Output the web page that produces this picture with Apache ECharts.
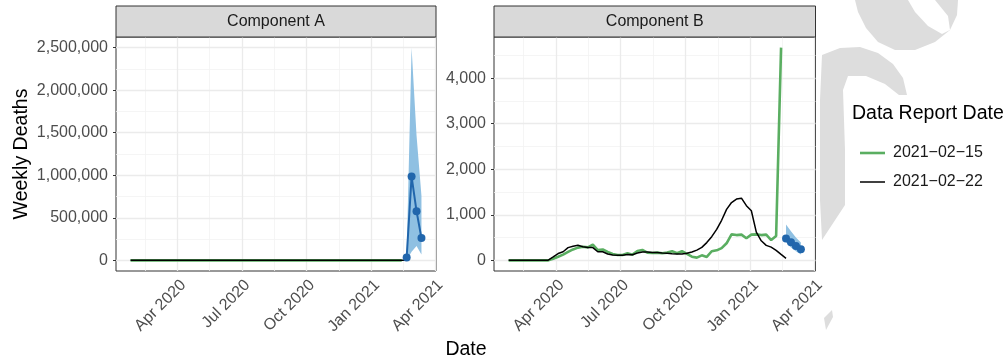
<!DOCTYPE html>
<html>
<head>
<meta charset="utf-8">
<script src="https://cdn.jsdelivr.net/npm/echarts@6/dist/echarts.min.js"></script>
<style>
html,body{margin:0;padding:0;background:#fff;}
#chart{width:1007px;height:362px;}
</style>
</head>
<body>
<div id="chart"></div>
<script>
// ---------------- data ----------------
const firstWeek = '2020-01-25';               // weekly observations (Saturdays)
const panelNames = ['Component A', 'Component B'];
const reportNames = ['2021\u221202\u221215', '2021\u221202\u221222'];

// Component A: reported weekly deaths (flat at 0 at this scale)
const reportA1 = [0,0,0,0,0,0,0,0,0,0,0,0,0,0,0,0,0,0,0,0,0,0,0,0,0,0,0,0,0,0,0,0,0,0,0,0,0,0,0,0,0,0,0,0,0,0,0,0,0,0,0,0,0,0,0,0];
const reportA2 = [0,0,0,0,0,0,0,0,0,0,0,0,0,0,0,0,0,0,0,0,0,0,0,0,0,0,0,0,0,0,0,0,0,0,0,0,0,0,0,0,0,0,0,0,0,0,0,0,0,0,0,0,0,0,0,0,0];

// Component B: report 2021-02-15 (green), report 2021-02-22 (black)
const reportB1 = [0,0,0,0,0,0,0,0,0,
  37,80,125,185,240,280,300,285,345,225,
  240,185,140,117,117,155,125,205,227,170,
  160,170,155,170,200,155,200,140,80,60,
  110,75,200,220,270,375,570,555,565,485,
  565,570,555,565,445,535,4670];
const reportB2 = [0,0,0,0,0,0,0,0,5,
  75,150,190,280,310,330,300,280,280,190,
  190,140,117,110,110,130,125,160,185,185,
  175,170,160,155,145,140,140,155,185,225,
  285,390,520,680,880,1120,1270,1345,1365,1200,
  1090,620,430,330,290,220,130,45];

// forecasts (median, lower, upper)
const fcDates = ['2021-02-20','2021-02-27','2021-03-06','2021-03-13'];
const fcA   = [35000, 985000, 578000, 263000];
const fcAlo = [0, 100000, 170000, 70000];
const fcAhi = [60000, 2500000, 1470000, 760000];
const fcB   = [480, 400, 315, 245];
const fcBlo = [400, 280, 200, 130];
const fcBhi = [790, 640, 500, 390];

// axis ticks
const xTickDates = ['2020-04-01','2020-07-01','2020-10-01','2021-01-01','2021-04-01'];
const xMinorDates = ['2020-02-15','2020-05-16','2020-08-16','2020-11-16','2021-02-15'];
const yTicksA = [0, 500000, 1000000, 1500000, 2000000, 2500000];
const yMinorA = [250000, 750000, 1250000, 1750000, 2250000];
const yTicksB = [0, 1000, 2000, 3000, 4000];
const yMinorB = [500, 1500, 2500, 3500, 4500];

// ---------------- helpers ----------------
const DAY = 86400000;
const ts = s => { const p = s.split('-').map(Number); return Date.UTC(p[0], p[1]-1, p[2]); };
const t0 = ts(firstWeek);
const weekT = k => t0 + 7*DAY*k;
const pairs = arr => arr.map((v,k) => [weekT(k), v]);
const fcPairs = arr => arr.map((v,i) => [ts(fcDates[i]), v]);
const MON = ['Jan','Feb','Mar','Apr','May','Jun','Jul','Aug','Sep','Oct','Nov','Dec'];
const fmtDate = v => { const d = new Date(v); return MON[d.getUTCMonth()] + ' ' + d.getUTCFullYear(); };
const fmtNum = v => String(Math.round(v)).replace(/\B(?=(\d{3})+(?!\d))/g, ',');

const tEnd = ts(fcDates[fcDates.length-1]);
const xMin = t0 - 0.05*(tEnd - t0), xMax = tEnd + 0.05*(tEnd - t0);
const yRange = (lo, hi) => [lo - 0.05*(hi-lo), hi + 0.05*(hi-lo)];
const yA = yRange(0, Math.max(...fcAhi));
const yB = yRange(0, Math.max(...reportB1, ...reportB2, ...fcBhi));

const FONT = '"Liberation Sans", Arial, Helvetica, sans-serif';
const GREEN = '#5aae61', BLUE = '#2166ac', BAND = '#8fc0e2', WM = '#dddddd';

const grids = [
  {left:116, top:37, width:320, height:234},
  {left:494, top:37, width:321.5, height:234}
];

function xAxisFor(i){
  return {
    type:'value', gridIndex:i, min:xMin, max:xMax,
    splitLine:{show:false}, axisLine:{show:false},
    axisTick:{show:true, length:3, lineStyle:{color:'#333', width:1}, customValues: xTickDates.map(ts)},
    axisLabel:{show:true, rotate:45, margin:6, align:'right', verticalAlign:'top',
      color:'#4d4d4d', fontSize:16, fontFamily:FONT,
      customValues: xTickDates.map(ts), formatter: fmtDate}
  };
}
function yAxisFor(i, rng, ticks){
  const ax = {
    type:'value', gridIndex:i, min:rng[0], max:rng[1],
    splitLine:{show:false}, axisLine:{show:false},
    axisTick:{show:true, length:3, lineStyle:{color:'#333', width:1}, customValues: ticks},
    axisLabel:{show:true, margin:8, color:'#4d4d4d', fontSize:16, fontFamily:FONT,
      customValues: ticks, formatter: fmtNum}
  };
  if (i === 0) {
    ax.name = 'Weekly Deaths'; ax.nameLocation = 'middle'; ax.nameGap = 84;
    ax.nameTextStyle = {fontSize:19.5, color:'#000', fontFamily:FONT};
  }
  return ax;
}
function gridSeries(i, xMaj, xMin_, yMaj, yMin_, yLo){
  const maj = {color:'#ebebeb', width:1.3, type:'solid'};
  const mnr = {color:'#f3f3f3', width:0.8, type:'solid'};
  const data = [];
  xMin_.forEach(v => data.push({xAxis:v, lineStyle:mnr}));
  yMin_.forEach(v => data.push({yAxis:v, lineStyle:mnr}));
  xMaj.forEach(v => data.push({xAxis:v, lineStyle:maj}));
  yMaj.forEach(v => data.push({yAxis:v, lineStyle:maj}));
  return {
    type:'line', xAxisIndex:i, yAxisIndex:i, data:[[xMax, yLo]], symbol:'none', silent:true,
    lineStyle:{opacity:0}, z:1, legendHoverLink:false,
    markLine:{silent:true, z:1, symbol:['none','none'], label:{show:false}, animation:false, data:data}
  };
}
function bandSeries(i, lo, hi){
  return {
    type:'custom', xAxisIndex:i, yAxisIndex:i, silent:true, z:3,
    data: fcDates.map((d,j) => [ts(d), lo[j], hi[j]]),
    encode:{x:0, y:[1,2]},
    renderItem: function(params, api){
      if (params.dataIndex !== 0) return null;
      const up = fcDates.map((d,j) => api.coord([ts(d), hi[j]]));
      const dn = fcDates.map((d,j) => api.coord([ts(d), lo[j]])).reverse();
      return {type:'polygon', shape:{points: up.concat(dn)}, style:{fill:BAND}};
    }
  };
}
function reportSeries(i, d1, d2){
  return [
    {name:reportNames[0], type:'line', xAxisIndex:i, yAxisIndex:i, data:pairs(d1), symbol:'none',
      lineStyle:{color:GREEN, width:2.6}, itemStyle:{color:GREEN}, z:4},
    {name:reportNames[1], type:'line', xAxisIndex:i, yAxisIndex:i, data:pairs(d2), symbol:'none',
      lineStyle:{color:'#000', width:1.5}, itemStyle:{color:'#000'}, z:5}
  ];
}
function fcSeries(i, vals){
  return {name:'forecast', type:'line', xAxisIndex:i, yAxisIndex:i, data:fcPairs(vals),
    symbol:'circle', symbolSize:8, lineStyle:{color:BLUE, width:2}, itemStyle:{color:BLUE}, z:6};
}

const series = [
  gridSeries(0, xTickDates.map(ts), xMinorDates.map(ts), yTicksA, yMinorA, yA[0]),
  gridSeries(1, xTickDates.map(ts), xMinorDates.map(ts), yTicksB, yMinorB, yB[0]),
  bandSeries(0, fcAlo, fcAhi),
  bandSeries(1, fcBlo, fcBhi),
  ...reportSeries(0, reportA1, reportA2),
  ...reportSeries(1, reportB1, reportB2),
  fcSeries(0, fcA),
  fcSeries(1, fcB)
];

const strips = grids.map((g,i) => ([
  {type:'rect', shape:{x:g.left, y:6, width:g.width, height:31},
    style:{fill:'#d9d9d9', stroke:'#333', lineWidth:1}, z:10},
  {type:'text', x:g.left + g.width/2, y:21.5,
    style:{text:panelNames[i], fill:'#1a1a1a', font:'16px ' + FONT, textAlign:'center', textVerticalAlign:'middle'}, z:11}
])).flat();

// faint background watermark shapes at the right edge
const watermark = [
  {type:'polygon', z:-5, shape:{points:[[855,0],[958,0],[957,15],[950,30],[935,42],[915,50],[895,50],[878,42],[866,28],[858,12]]}, style:{fill:WM}},
  {type:'polygon', z:-4, shape:{points:[[908,0],[935,0],[948,16],[950,30],[942,34],[928,26],[915,12]]}, style:{fill:'#fff'}},
  {type:'polygon', z:-5, shape:{points:[[822,55],[840,48],[860,47],[878,53],[893,64],[903,78],[907,95],[899,95],[885,84],[866,76],[848,76],[843,90],[845,150],[845,205],[822,240],[820,200],[820,100]]}, style:{fill:WM}},
  {type:'polygon', z:-5, shape:{points:[[824,318],[832,310],[833,317],[826,330]]}, style:{fill:WM}}
];

const chart = echarts.init(document.getElementById('chart'), null, {renderer:'canvas'});
chart.setOption({
  animation:false,
  backgroundColor:'#fff',
  textStyle:{fontFamily:FONT},
  grid: grids.map(g => Object.assign({show:true, borderColor:'#333', borderWidth:1, backgroundColor:'#fff'}, g)),
  xAxis:[xAxisFor(0), xAxisFor(1)],
  yAxis:[yAxisFor(0, yA, yTicksA), yAxisFor(1, yB, yTicksB)],
  legend:{
    data:[{name:reportNames[0], icon:'path://M0 0H25V2.6H0Z'}, {name:reportNames[1], icon:'path://M0 0H25V1.5H0Z'}],
    orient:'vertical', left:855, top:140, itemWidth:25, itemHeight:14, itemGap:13, symbolKeepAspect:true,
    textStyle:{fontSize:16, color:'#1a1a1a', fontFamily:FONT, padding:[0,0,0,3]}, selectedMode:false
  },
  graphic:[
    ...watermark,
    ...strips,
    {type:'text', x:852, y:114, style:{text:'Data Report Date', fill:'#000', font:'19.5px ' + FONT, textVerticalAlign:'middle'}},
    {type:'text', x:466, y:350, style:{text:'Date', fill:'#000', font:'19.5px ' + FONT, textAlign:'center', textVerticalAlign:'middle'}}
  ],
  series: series
});
</script>
</body>
</html>
